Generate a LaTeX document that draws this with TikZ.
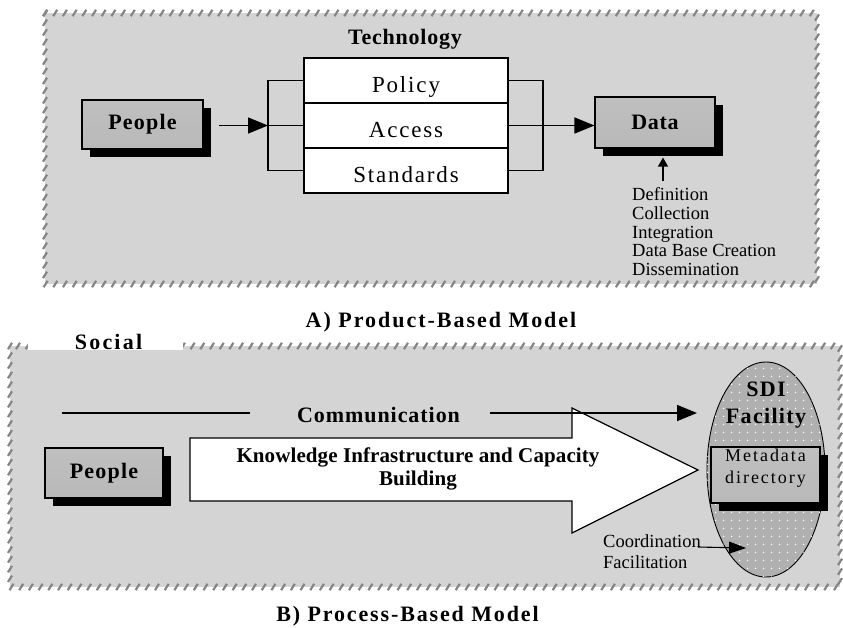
\documentclass[tikz,border=0pt]{standalone}
\usepackage{fontspec}
\setmainfont{Liberation Serif}
\usetikzlibrary{arrows.meta,decorations.markings,shapes.geometric,shadows,patterns.meta}

\definecolor{panelfill}{HTML}{D4D4D4}
\definecolor{bordergray}{HTML}{858585}
\definecolor{ellfill}{HTML}{B0B0B0}

\tikzdeclarepattern{name=whitedots, type=uncolored,
  bounding box={(0pt,0pt) and (8pt,8pt)}, tile size={(8pt,8pt)},
  code={\fill (4pt,4pt) circle (0.9pt);}}

\tikzset{
  panel/.style={fill=panelfill, draw=none, postaction={decorate},
    decoration={markings, mark=between positions 0 and 1 step 9.7pt with
      {\pgftransformresetnontranslations
       \draw[bordergray, line width=2.2pt] (-2pt,-3.2pt) -- (2pt,3.2pt);}}},
  boldlbl/.style={inner sep=0pt, font=\bfseries\fontsize{22}{26}\selectfont\addfontfeature{LetterSpace=#1}},
  boldlbl/.default=5,
  box3d/.style={draw=black, line width=1.1pt, top color=gray!50, middle color=white,
    bottom color=gray!55, inner sep=0pt,
    general shadow={fill=black, shadow xshift=8pt, shadow yshift=-8pt}},
  cell/.style={draw=black, line width=1.5pt, fill=white, minimum width=204pt,
    minimum height=45pt, text height=23pt, text depth=0pt, inner sep=0pt,
    font=\fontsize{23}{27}\selectfont\addfontfeature{LetterSpace=8}},
  bigtip/.style={-{Triangle[length=20pt,width=16pt]}, line width=1.5pt},
  conn/.style={line width=1.3pt},
  plainlist/.style={inner sep=0pt, align=left, font=\fontsize{18.5}{#1}\selectfont},
}

\begin{document}
\begin{tikzpicture}[x=1pt,y=-1pt]
\useasboundingbox (0,0) rectangle (843,627);
\fill[white] (0,0) rectangle (843,627);

% ---------- A) Product-Based Model ----------
\path[panel] (45,13) rectangle (817,284);

\node[boldlbl=3.5, anchor=base] (tech) at (405,44) {Technology};

\node[cell] (policy) at (406,80.5) {Policy};
\node[cell] (access) at (406,125.5) {Access};
\node[cell] (standards) at (406,170.5) {Standards};

\coordinate (lb) at (268,125.5);
\coordinate (rb) at (543,125.5);
\draw[conn] (policy.west) -- (policy.west -| lb) -- (standards.west -| lb) -- (standards.west);
\draw[conn] (access.west) -- (lb);
\draw[conn] (policy.east) -- (policy.east -| rb) -- (standards.east -| rb) -- (standards.east);

\node[box3d, minimum width=121pt, minimum height=49pt, boldlbl=5.5] (people1) at (142.5,124.5) {People};
\node[box3d, minimum width=120pt, minimum height=51pt, boldlbl=3] (data) at (655,122.5) {Data};

\coordinate (pa) at ([xshift=15pt]people1.east);
\draw[bigtip] (pa |- lb) -- (lb);
\draw[bigtip] (access.east) -- (data.west |- access.east);

\node[plainlist=18.75, anchor=north west] (tasks) at (632,187.5)
  {Definition\\Collection\\Integration\\Data Base Creation\\Dissemination};
\coordinate (tasktop) at (663,181);
\coordinate (dsh) at ([yshift=-9pt]data.south);
\draw[-{Triangle[length=9pt,width=10pt]}, line width=1.3pt] (tasktop) -- (tasktop |- dsh);

\node[boldlbl=9, anchor=base] (capA) at (441,327) {A) Product-Based Model};

% ---------- B) Process-Based Model ----------
\path[panel] (10,346) rectangle (840,587);
\fill[white] (28,334) rectangle (183,350);
\node[boldlbl=10] (social) at (108.5,341.5) {Social};

\node[ellipse, draw=black, line width=0.9pt, fill=ellfill, minimum width=118pt,
  minimum height=215pt, inner sep=0pt,
  postaction={pattern=whitedots, pattern color=white}] (sdi) at (766,469.5) {};
\node[anchor=north, inner sep=0pt, align=center,
  font=\bfseries\fontsize{22}{27}\selectfont\addfontfeature{LetterSpace=6}] (sditxt) at (766,382) {SDI\\Facility};

\draw[line width=1.2pt, fill=white] (190,438) -- (572,438) -- (572,408) -- (698,470)
  -- (572,533) -- (572,501) -- (190,501) -- cycle;
\coordinate (kitip) at (698,470);
\node[anchor=north, inner sep=0pt, align=center,
  font=\bfseries\fontsize{21}{23}\selectfont\addfontfeature{LetterSpace=0.5}] (kib) at (418,447.5)
  {Knowledge Infrastructure and Capacity\\Building};

\node[boldlbl=4.3] (comm) at (378.5,414.5) {Communication};
\coordinate (cstart) at (62,413);
\coordinate (cl1) at (250,413);
\coordinate (cr1) at (490,413);
\coordinate (cend) at (697,413);
\draw[conn] (cstart) -- (cl1);
\draw[bigtip] (cr1) -- (cend);

\node[box3d, minimum width=109pt, minimum height=56pt] (meta) at (765.5,475) {};
\node[anchor=north, inner sep=0pt, align=center,
  font=\fontsize{18}{22}\selectfont\addfontfeature{LetterSpace=11}] (metatxt) at (765.5,449) {Metadata\\directory};

\node[box3d, minimum width=118pt, minimum height=50pt, boldlbl=5.5] (people2) at (104,473) {People};

\node[plainlist=21, anchor=north west] (coord) at (603,534.5) {Coordination\\Facilitation};
\coordinate (cf1) at (698,547);
\coordinate (cf2) at (746,548);
\draw[-{Triangle[length=17pt,width=12pt]}, line width=1.1pt] (cf1) -- (cf2);

\node[boldlbl=8.5, anchor=base] (capB) at (407.5,621.5) {B) Process-Based Model};
\end{tikzpicture}
\end{document}
